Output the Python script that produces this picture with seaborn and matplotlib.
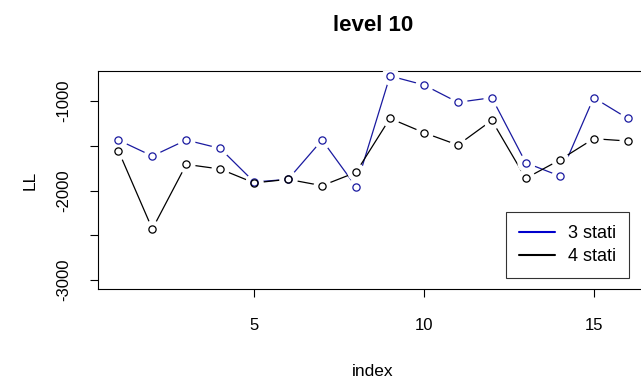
import matplotlib
matplotlib.use("Agg")
import matplotlib.pyplot as plt
import seaborn as sns
import pandas as pd
import numpy as np

index = list(range(1, 17))
stati3 = [-1436, -1615, -1436, -1530, -1905, -1875, -1436, -1957,
          -720, -821, -1015, -963, -1690, -1838, -963, -1194]
stati4 = [-1555, -2430, -1708, -1760, -1915, -1875, -1946, -1797,
          -1194, -1354, -1492, -1216, -1864, -1659, -1421, -1447]
series_names = ["3 stati", "4 stati"]
colors = ["#1a1aa0", "black"]
legend_colors = ["#0000cc", "black"]

sns.set_style("white")
plt.rcParams['font.family'] = ['Liberation Sans', 'DejaVu Sans']
plt.rcParams['text.color'] = 'black'
plt.rcParams['axes.labelcolor'] = 'black'

df = pd.DataFrame({
    "index": index * 2,
    "LL": stati3 + stati4,
    "serie": [series_names[0]] * len(index) + [series_names[1]] * len(index),
})

fig = plt.figure(figsize=(6.41, 3.81), dpi=100)
ax = fig.add_axes([98/641, 1 - 289/381, 550/641, 218/381])

for name, col in zip(series_names, colors):
    sub = df[df["serie"] == name]
    sns.lineplot(data=sub, x="index", y="LL", ax=ax, color=col, lw=0.9,
                 label=name, zorder=2)
for name, col in zip(series_names, colors):
    sub = df[df["serie"] == name]
    ax.plot(sub["index"], sub["LL"], "o", ms=12, color="white", zorder=3)
for name, col in zip(series_names, colors):
    sub = df[df["serie"] == name]
    ax.plot(sub["index"], sub["LL"], "o", ms=5.2, mfc="none", mec=col,
            mew=0.9, zorder=4)

ax.set_xlim(0.4, 16.6)
ax.set_ylim(-3100, -665)
ax.set_xticks([5, 10, 15])
ax.set_yticks([-3000, -2500, -2000, -1500, -1000])
ax.set_yticklabels(["-3000", "", "-2000", "", "-1000"], rotation=90,
                   va="center")
ax.tick_params(axis="both", direction="out", length=6, width=0.8,
               colors="black", labelsize=12, left=True, bottom=True)
ax.tick_params(axis="y", pad=13)
ax.tick_params(axis="x", pad=15)
for s in ax.spines.values():
    s.set_color("black")
    s.set_linewidth(0.8)
ax.set_xlabel("index", fontsize=12.5, labelpad=22, color="black")
ax.set_ylabel("LL", fontsize=12.5, labelpad=14, color="black")
ax.set_title("level 10", fontsize=16, fontweight="bold", pad=29,
             color="black")

leg = ax.legend(loc="lower right", bbox_to_anchor=(531/550, 11/218),
                fontsize=13, frameon=True, fancybox=False, handlelength=2.0,
                borderpad=0.7, labelspacing=0.35, handletextpad=0.75,
                borderaxespad=0)
leg.get_frame().set_edgecolor("black")
leg.get_frame().set_linewidth(0.8)
for line, col in zip(leg.get_lines(), legend_colors):
    line.set_color(col)
    line.set_linewidth(1.5)
for t in leg.get_texts():
    t.set_color("black")

fig.savefig("out.png", dpi=100)
